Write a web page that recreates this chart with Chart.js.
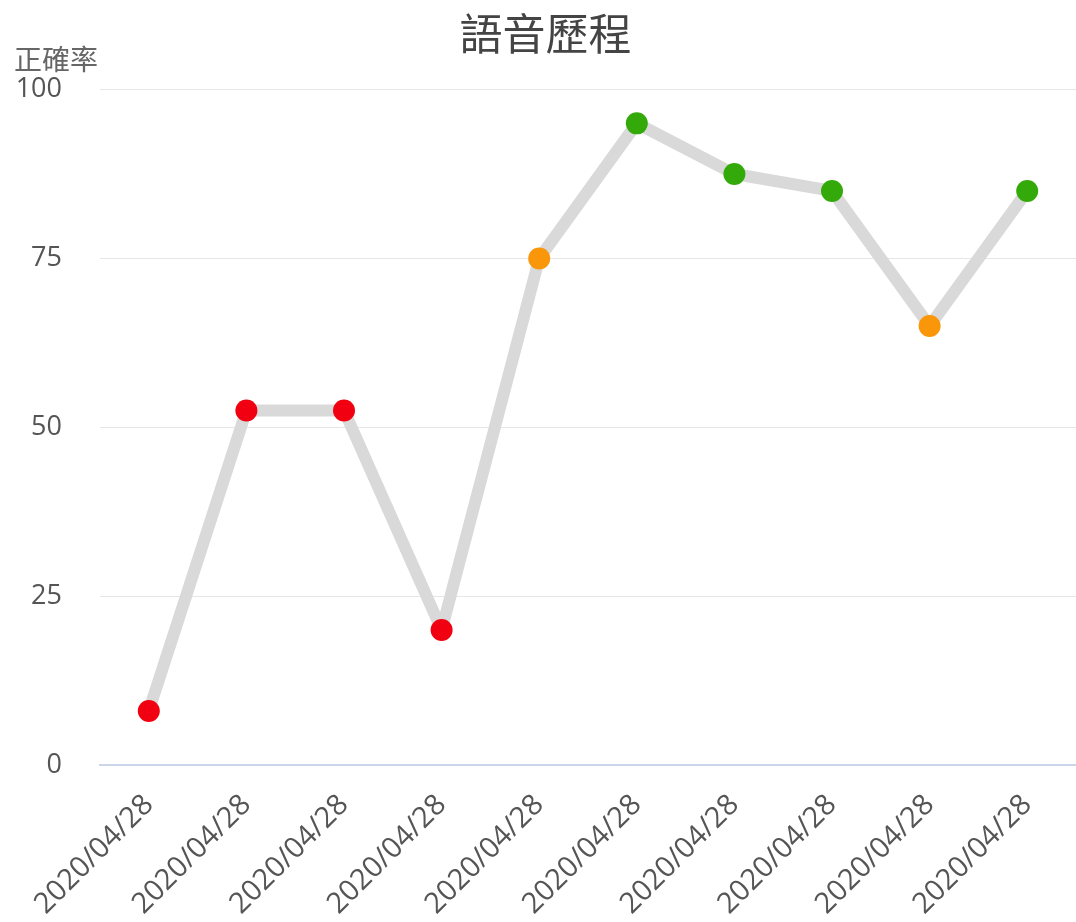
<!DOCTYPE html>
<html>
<head>
<meta charset="utf-8">
<script src="https://cdn.jsdelivr.net/npm/chart.js@4"></script>
<style>
  html, body { margin: 0; padding: 0; background: #fff; }
  #wrap { width: 1076px; height: 922px; }
</style>
</head>
<body>
<div id="wrap"><canvas id="chart"></canvas></div>
<script>
const labels = ['2020/04/28', '2020/04/28', '2020/04/28', '2020/04/28', '2020/04/28',
  '2020/04/28', '2020/04/28', '2020/04/28', '2020/04/28', '2020/04/28'];
const scores = [8, 52.5, 52.5, 20, 75, 95, 87.5, 85, 65, 85];
const yTicks = [0, 25, 50, 75, 100];

const pointColor = (v) => {
  if (v >= 80) return '#33aa0a';
  if (v >= 60) return '#fa960a';
  return '#f00010';
};

// y title drawn horizontally above the top tick
const yTitle = {
  id: 'yTitle',
  afterDraw(chart) {
    const ctx = chart.ctx;
    ctx.save();
    ctx.font = '28px "Noto Sans CJK TC", "Noto Sans", sans-serif';
    ctx.fillStyle = '#666';
    ctx.textAlign = 'left';
    ctx.textBaseline = 'middle';
    ctx.fillText('正確率', 14, chart.scales.y.top - 30);
    ctx.restore();
  }
};

new Chart(document.getElementById('chart'), {
  type: 'line',
  data: {
    labels: labels,
    datasets: [{
      data: scores,
      borderColor: '#d9d9d9',
      borderWidth: 12,
      borderJoinStyle: 'round',
      borderCapStyle: 'round',
      pointRadius: 11,
      pointHoverRadius: 11,
      pointBorderWidth: 0,
      pointBackgroundColor: scores.map(pointColor),
      tension: 0,
      clip: false
    }]
  },
  options: {
    responsive: true,
    maintainAspectRatio: false,
    animation: false,
    layout: { autoPadding: false, padding: { left: 15, right: 0, top: 0, bottom: 0 } },
    plugins: {
      legend: { display: false },
      tooltip: { enabled: false },
      title: {
        display: true,
        text: '語音歷程',
        color: '#444',
        font: { size: 43, family: '"Noto Sans CJK TC", sans-serif', weight: 'normal' },
        padding: { top: 8, bottom: 30 }
      }
    },
    scales: {
      x: {
        offset: true,
        grid: { display: false, drawTicks: false },
        border: { color: '#ccd6eb', width: 2 },
        afterFit(scale) {
          // let the first rotated label hang under the y axis
          scale.paddingLeft = 0;
          scale.height = 157;
        },
        ticks: {
          color: '#555',
          font: { size: 29, family: '"Open Sans", sans-serif' },
          maxRotation: 45,
          minRotation: 45,
          padding: 23
        }
      },
      y: {
        min: 0,
        max: 100,
        afterBuildTicks(scale) {
          scale.ticks = yTicks.map(v => ({ value: v }));
        },
        afterFit(scale) {
          scale.width = 85;
        },
        grid: { color: '#e6e6e6', drawTicks: false },
        border: { display: false },
        ticks: {
          color: '#555',
          font: { size: 27, family: '"Open Sans", sans-serif' },
          padding: 38
        }
      }
    }
  },
  plugins: [yTitle]
});
</script>
</body>
</html>
